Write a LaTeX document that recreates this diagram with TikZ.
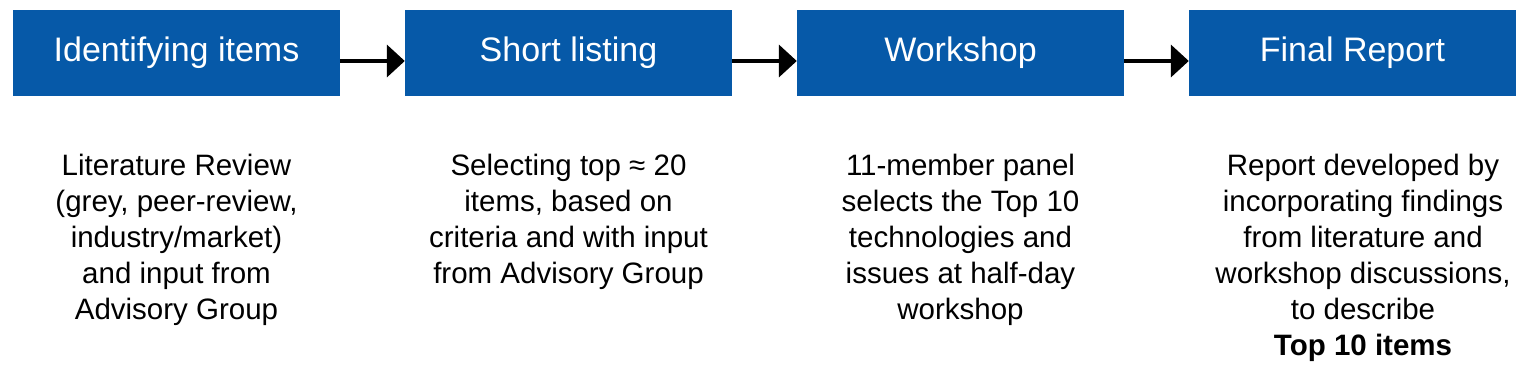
\documentclass[tikz,border=0pt]{standalone}
\usepackage{fontspec}
\setmainfont{Liberation Sans}
\usetikzlibrary{arrows.meta}
\definecolor{boxblue}{RGB}{6,89,168}
\tikzset{
  stepbox/.style={fill=boxblue, text=white, minimum width=327pt, minimum height=86pt,
    inner sep=0pt, font=\fontsize{34}{40}\selectfont},
  desc/.style={align=center, anchor=base, inner sep=0pt, text=black,
    font=\fontsize{29.5}{36}\selectfont},
  flow/.style={line width=4pt, -{Triangle[length=18pt,width=32pt]}}
}
\begin{document}
\begin{tikzpicture}[x=1pt,y=-1pt]
\useasboundingbox (0,0) rectangle (1530,390);
\node[stepbox] (b1) at (176.5,53) {\raisebox{-3pt}{Identifying items}};
\node[stepbox] (b2) at (568.5,53) {\raisebox{-3pt}{Short listing}};
\node[stepbox] (b3) at (960.5,53) {\raisebox{-3pt}{Workshop}};
\node[stepbox] (b4) at (1352.5,53) {\raisebox{-3pt}{Final Report}};
\draw[flow] ([yshift=-8pt]b1.east) -- ([yshift=-8pt]b2.west);
\draw[flow] ([yshift=-8pt]b2.east) -- ([yshift=-8pt]b3.west);
\draw[flow] ([yshift=-8pt]b3.east) -- ([yshift=-8pt]b4.west);
\node[desc] (t1) at (176.5,319) {Literature Review\\(grey, peer-review,\\industry/market)\\and input from\\Advisory Group};
\node[desc] (t2) at (568.5,283) {Selecting top ≈ 20\\items, based on\\criteria and with input\\from Advisory Group};
\node[desc] (t3) at (960.5,319) {11-member panel\\selects the Top 10\\technologies and\\issues at half-day\\workshop};
\node[desc] (t4) at (1363,355) {Report developed by\\incorporating findings\\from literature and\\workshop discussions,\\to describe\\\textbf{Top 10 items}};
\end{tikzpicture}
\end{document}
